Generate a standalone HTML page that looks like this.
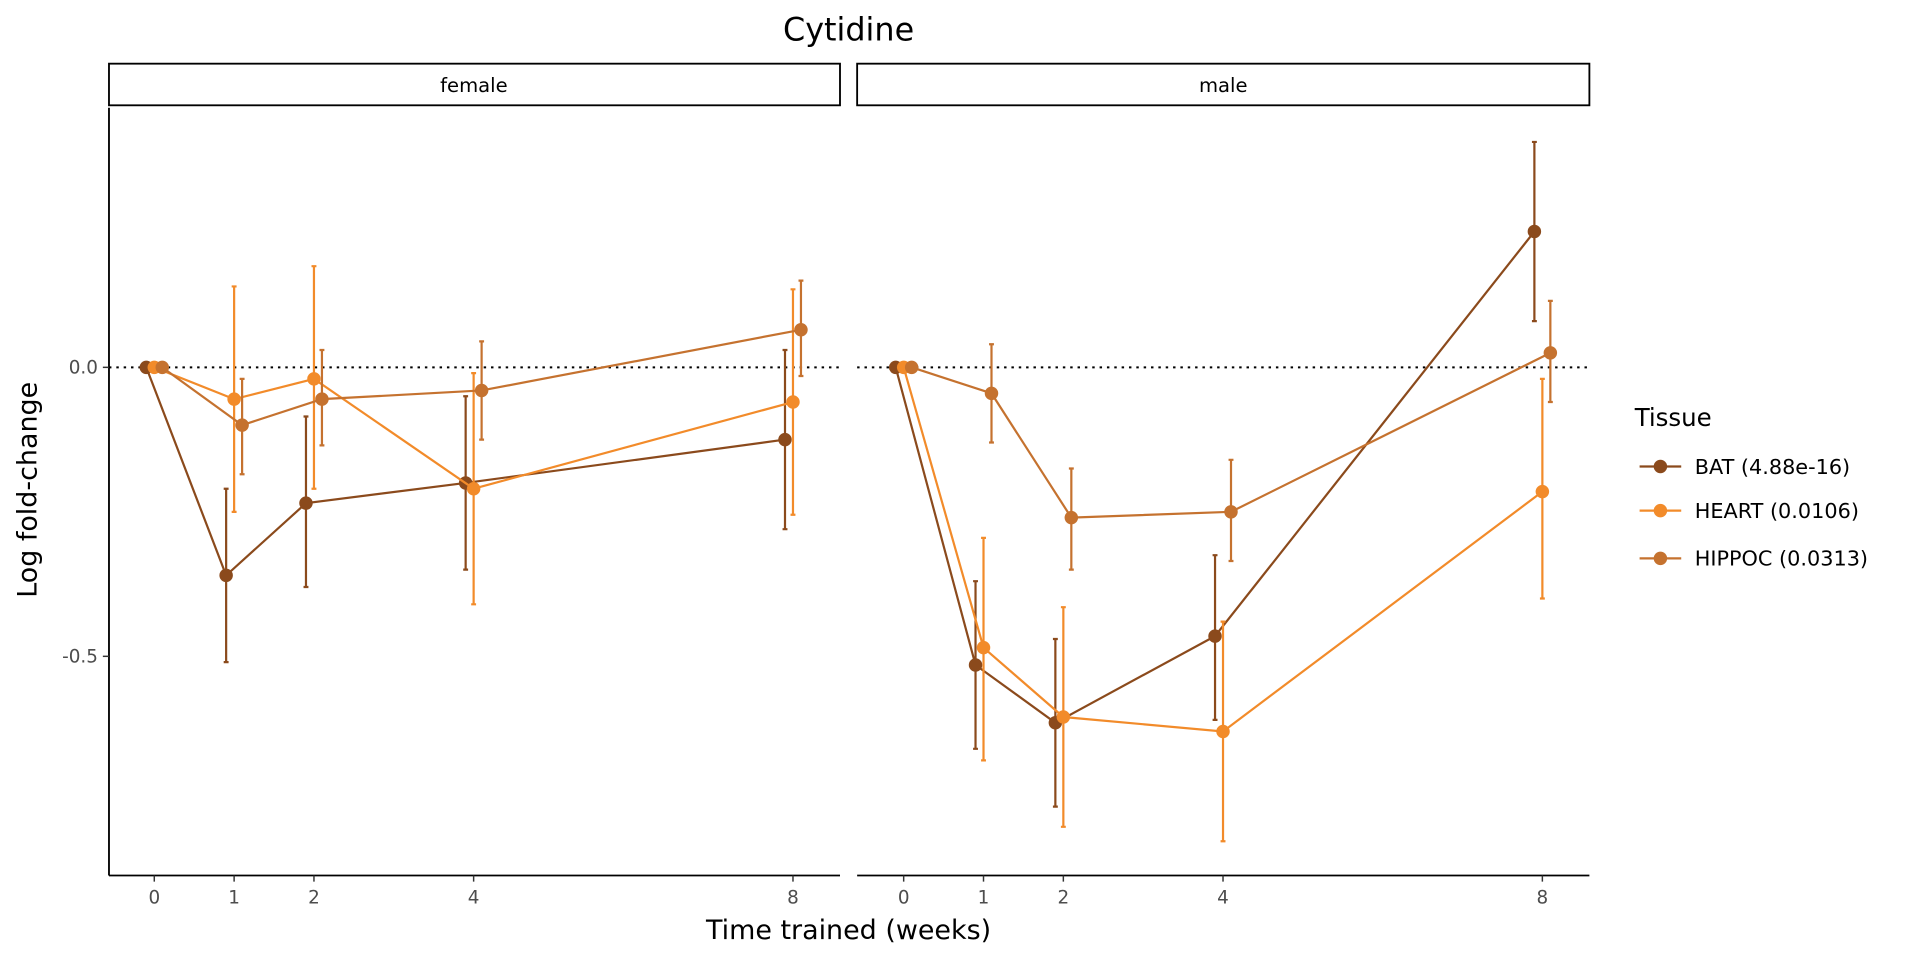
<!DOCTYPE html>
<html><head><meta charset="utf-8"><style>
html,body{margin:0;padding:0;background:#fff}
svg{display:block;font-family:"DejaVu Sans","Liberation Sans",sans-serif}
</style></head><body>
<svg id="chart" width="1920" height="960" viewBox="0 0 1568 784" xmlns="http://www.w3.org/2000/svg">
<text x="693" y="33" text-anchor="middle" font-size="26" fill="#000">Cytidine</text>
<g><rect x="89" y="52" width="597" height="34" fill="#fff" stroke="#000" stroke-width="1.5"/><text x="387" y="75" text-anchor="middle" font-size="16">female</text></g>
<g><rect x="700" y="52" width="598" height="34" fill="#fff" stroke="#000" stroke-width="1.5"/><text x="999" y="75" text-anchor="middle" font-size="16">male</text></g>
<line x1="89" y1="88" x2="89" y2="715" stroke="#000" stroke-width="1.5"/>
<line x1="89" y1="715" x2="686" y2="715" stroke="#000" stroke-width="1.5"/>
<line x1="700" y1="715" x2="1298" y2="715" stroke="#000" stroke-width="1.5"/>
<text transform="translate(30,400) rotate(-90)" text-anchor="middle" font-size="22">Log fold-change</text>
<text x="693" y="767" text-anchor="middle" font-size="22">Time trained (weeks)</text>
<g id="marks"></g>
<g>
<text x="1335" y="348" font-size="20">Tissue</text>
<g id="legend-items"></g>
</g>
</svg>
<script>
const weeks = [0, 1, 2, 4, 8];
const tissues = ["BAT", "HEART", "HIPPOC"];
const legendLabels = ["BAT (4.88e-16)", "HEART (0.0106)", "HIPPOC (0.0313)"];
const colors = ["#8b4a1c", "#f28b2a", "#c5722f"];
const yTicks = [0, -0.5];
const yTickLabels = ["0.0", "-0.5"];
// female
const femaleBAT = [0, -0.36, -0.235, -0.2, -0.125];
const femaleBATHi = [0, -0.21, -0.085, -0.05, 0.03];
const femaleBATLo = [0, -0.51, -0.38, -0.35, -0.28];
const femaleHEART = [0, -0.055, -0.02, -0.21, -0.06];
const femaleHEARTHi = [0, 0.14, 0.175, -0.01, 0.135];
const femaleHEARTLo = [0, -0.25, -0.21, -0.41, -0.255];
const femaleHIPPOC = [0, -0.1, -0.055, -0.04, 0.065];
const femaleHIPPOCHi = [0, -0.02, 0.03, 0.045, 0.15];
const femaleHIPPOCLo = [0, -0.185, -0.135, -0.125, -0.015];
// male
const maleBAT = [0, -0.515, -0.615, -0.465, 0.235];
const maleBATHi = [0, -0.37, -0.47, -0.325, 0.39];
const maleBATLo = [0, -0.66, -0.76, -0.61, 0.08];
const maleHEART = [0, -0.485, -0.605, -0.63, -0.215];
const maleHEARTHi = [0, -0.295, -0.415, -0.44, -0.02];
const maleHEARTLo = [0, -0.68, -0.795, -0.82, -0.4];
const maleHIPPOC = [0, -0.045, -0.26, -0.25, 0.025];
const maleHIPPOCHi = [0, 0.04, -0.175, -0.16, 0.115];
const maleHIPPOCLo = [0, -0.13, -0.35, -0.335, -0.06];

const NS = "http://www.w3.org/2000/svg";
const marks = document.getElementById("marks");
const yScale = v => 300 - v * 472;
const panels = [
  {name: "female", x0: 126, vals: [femaleBAT, femaleHEART, femaleHIPPOC], hi: [femaleBATHi, femaleHEARTHi, femaleHIPPOCHi], lo: [femaleBATLo, femaleHEARTLo, femaleHIPPOCLo], left: 89, right: 686},
  {name: "male", x0: 738, vals: [maleBAT, maleHEART, maleHIPPOC], hi: [maleBATHi, maleHEARTHi, maleHIPPOCHi], lo: [maleBATLo, maleHEARTLo, maleHIPPOCLo], left: 700, right: 1298}
];
function el(tag, attrs, parent) {
  const e = document.createElementNS(NS, tag);
  for (const k in attrs) e.setAttribute(k, attrs[k]);
  parent.appendChild(e);
  return e;
}
yTicks.forEach((t, i) => {
  const g = el("g", {}, marks);
  
  
  el("line", {x1: 84, x2: 89, y1: yScale(t), y2: yScale(t), stroke: "#333", "stroke-width": 1.2}, g);
  const tx = el("text", {x: 80, y: yScale(t) + 5, "text-anchor": "end", "font-size": 15, fill: "#4d4d4d"}, g);
  tx.textContent = yTickLabels[i];
});
panels.forEach(p => {
  const xScale = w => p.x0 + w * 65.2;
  const zl = el("line", {x1: p.left, x2: p.right, y1: yScale(0), y2: yScale(0), stroke: "#000", "stroke-width": 1.6, "stroke-dasharray": "2,4"}, marks);
  
  
  weeks.forEach(w => {
    const g = el("g", {}, marks);
    
    
    el("line", {x1: xScale(w), x2: xScale(w), y1: 715, y2: 720, stroke: "#333", "stroke-width": 1.2}, g);
    const tx = el("text", {x: xScale(w), y: 738, "text-anchor": "middle", "font-size": 15, fill: "#4d4d4d"}, g);
    tx.textContent = w;
  });
  tissues.forEach((t, ti) => {
    const dodge = (ti - 1) * 0.1;
    const g = el("g", {}, marks);
    
    
    const pts = weeks.map((w, i) => [xScale(w + dodge), yScale(p.vals[ti][i])]);
    el("polyline", {points: pts.map(q => q.join(",")).join(" "), fill: "none", stroke: colors[ti], "stroke-width": 1.8}, g);
    weeks.forEach((w, i) => {
      if (i === 0) return;
      const x = xScale(w + dodge), y1 = yScale(p.hi[ti][i]), y2 = yScale(p.lo[ti][i]);
      const eb = el("path", {d: `M${x},${y1}V${y2}M${x-2},${y1}H${x+2}M${x-2},${y2}H${x+2}`, stroke: colors[ti], "stroke-width": 1.8, fill: "none"}, g);
      
      
    });
    pts.forEach(q => {
      const c = el("circle", {cx: q[0], cy: q[1], r: 5.5, fill: colors[ti]}, g);
      
      
    });
  });
});
const li = document.getElementById("legend-items");
const legendY = [381, 417, 456];
tissues.forEach((t, i) => {
  const g = el("g", {}, li);
  
  
  el("line", {x1: 1339, x2: 1373, y1: legendY[i], y2: legendY[i], stroke: colors[i], "stroke-width": 1.8}, g);
  el("circle", {cx: 1356, cy: legendY[i], r: 5.5, fill: colors[i]}, g);
  const tx = el("text", {x: 1384, y: legendY[i] + 6, "font-size": 17}, g);
  tx.textContent = legendLabels[i];
});
</script>
</body></html>
